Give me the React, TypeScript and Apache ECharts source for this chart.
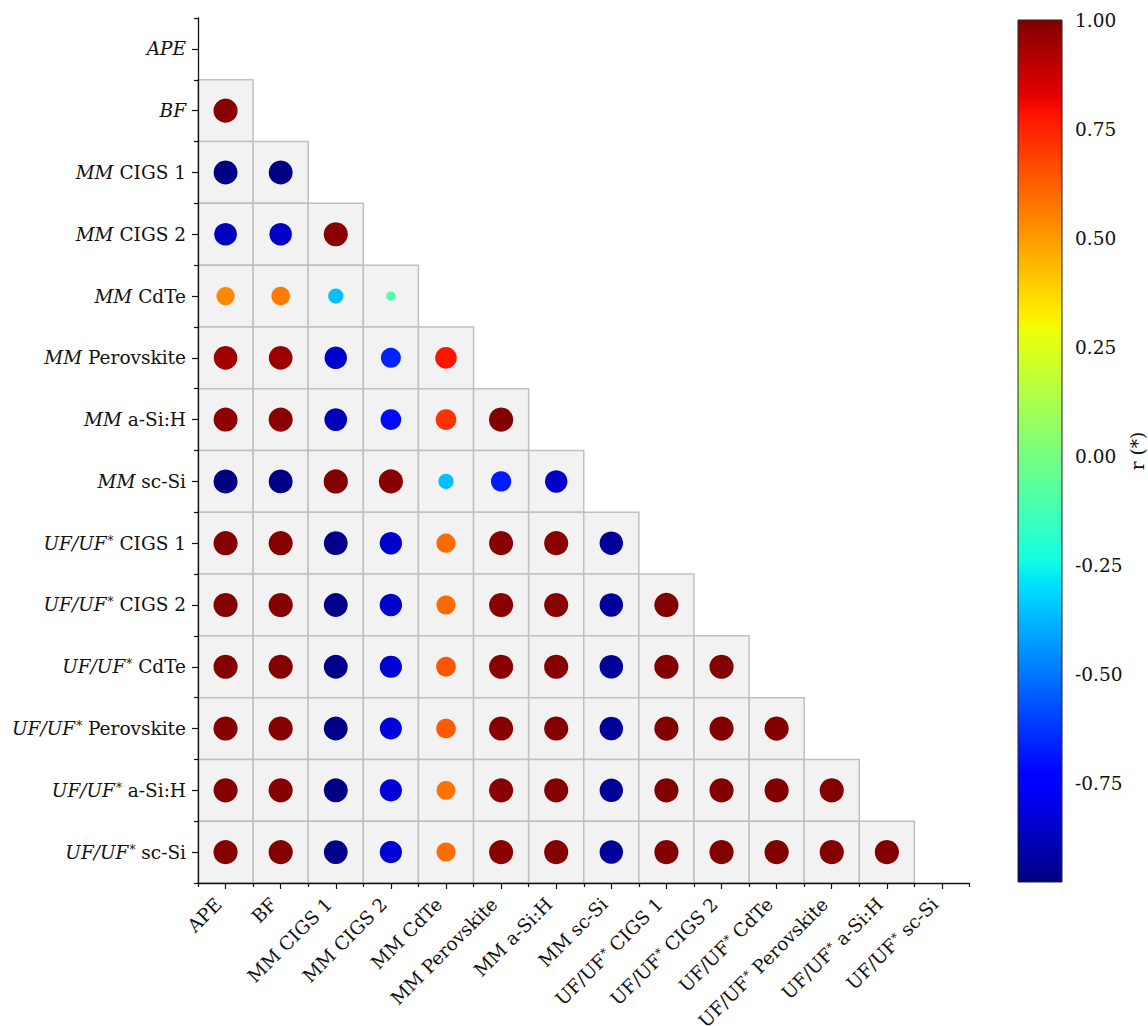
import React, { useEffect, useRef } from "react";
import * as echarts from "echarts";

// ---- data ----
const labels: string[] = [
  "APE",
  "BF",
  "MM CIGS 1",
  "MM CIGS 2",
  "MM CdTe",
  "MM Perovskite",
  "MM a-Si:H",
  "MM sc-Si",
  "UF/UF* CIGS 1",
  "UF/UF* CIGS 2",
  "UF/UF* CdTe",
  "UF/UF* Perovskite",
  "UF/UF* a-Si:H",
  "UF/UF* sc-Si",
];

// lower-triangle correlation values, row i holds columns 0..i-1
const rowAPE: number[] = [];
const rowBF: number[] = [0.985];
const rowMMCIGS1: number[] = [-0.97, -0.97];
const rowMMCIGS2: number[] = [-0.867, -0.853, 0.985];
const rowMMCdTe: number[] = [0.537, 0.567, -0.359, -0.1];
const rowMMPerov: number[] = [0.945, 0.955, -0.846, -0.664, 0.781];
const rowMMaSi: number[] = [0.975, 0.98, -0.876, -0.715, 0.715, 0.995];
const rowMMscSi: number[] = [-0.977, -0.97, 0.995, 0.985, -0.36, -0.68, -0.85];
const rowUFCIGS1: number[] = [0.99, 0.99, -0.963, -0.846, 0.601, 0.985, 0.985, -0.933];
const rowUFCIGS2: number[] = [0.99, 0.99, -0.963, -0.846, 0.6, 0.985, 0.985, -0.933, 0.995];
const rowUFCdTe: number[] = [0.99, 0.99, -0.963, -0.83, 0.644, 0.985, 0.99, -0.933, 0.995, 0.995];
const rowUFPerov: number[] = [0.99, 0.99, -0.963, -0.817, 0.634, 0.985, 0.99, -0.933, 0.995, 0.995, 0.995];
const rowUFaSi: number[] = [0.99, 0.99, -0.966, -0.83, 0.58, 0.985, 0.99, -0.933, 0.995, 0.995, 0.995, 0.995];
const rowUFscSi: number[] = [0.99, 0.99, -0.963, -0.83, 0.593, 0.985, 0.99, -0.933, 0.995, 0.995, 0.995, 0.995, 0.995];

const matrixRows: number[][] = [
  rowAPE, rowBF, rowMMCIGS1, rowMMCIGS2, rowMMCdTe, rowMMPerov, rowMMaSi,
  rowMMscSi, rowUFCIGS1, rowUFCIGS2, rowUFCdTe, rowUFPerov, rowUFaSi, rowUFscSi,
];

const COLOR_MIN = -0.977;
const COLOR_MAX = 1;
const colorbarTicks: number[] = [-0.75, -0.5, -0.25, 0, 0.25, 0.5, 0.75, 1];

// ---- jet colormap (matplotlib segment data) ----
const JR: number[][] = [[0, 0], [0.35, 0], [0.66, 1], [0.89, 1], [1, 0.5]];
const JG: number[][] = [[0, 0], [0.125, 0], [0.375, 1], [0.64, 1], [0.91, 0], [1, 0]];
const JB: number[][] = [[0, 0.5], [0.11, 1], [0.34, 1], [0.65, 0], [1, 0]];

function seg(pts: number[][], t: number): number {
  if (t <= pts[0][0]) return pts[0][1];
  for (let k = 1; k < pts.length; k++) {
    if (t <= pts[k][0]) {
      const [x0, y0] = pts[k - 1];
      const [x1, y1] = pts[k];
      return y0 + ((t - x0) / (x1 - x0)) * (y1 - y0);
    }
  }
  return pts[pts.length - 1][1];
}
function jet(t: number): string {
  const c = Math.max(0, Math.min(1, t));
  const r = Math.round(seg(JR, c) * 255);
  const g = Math.round(seg(JG, c) * 255);
  const b = Math.round(seg(JB, c) * 255);
  return `rgb(${r},${g},${b})`;
}
const norm = (v: number) => (v - COLOR_MIN) / (COLOR_MAX - COLOR_MIN);

const FONT = "DejaVu Serif";
const FS = 18.5;
const TXT = "#111";

function labelRich(name: string, italic: boolean): string {
  const ital = italic ? "i" : "n";
  if (name.startsWith("UF/UF* ")) {
    return `{${ital}|UF/UF}{sup|*}{n| ${name.slice(7)}}`;
  }
  if (name.startsWith("MM ")) {
    return `{${ital}|MM}{n| ${name.slice(3)}}`;
  }
  return `{${ital}|${name}}`;
}

const rich = {
  n: { fontFamily: FONT, fontSize: FS, color: TXT, lineHeight: 23 },
  i: { fontFamily: FONT, fontSize: FS, fontStyle: "italic", color: TXT, lineHeight: 23 },
  sup: { fontFamily: FONT, fontSize: 12, color: TXT, lineHeight: 12, verticalAlign: "top", padding: [3, 0, 0, 1] },
};

export default function App() {
  const ref = useRef<HTMLDivElement>(null);
  useEffect(() => {
    if (!ref.current) return;
    const chart = echarts.init(ref.current, undefined, { renderer: "svg" });

    const cells: number[][] = [];
    const points: number[][] = [];
    matrixRows.forEach((row, i) => {
      row.forEach((v, j) => {
        cells.push([j, i]);
        points.push([j, i, v]);
      });
    });

    const stopsT = [0, 0.11, 0.125, 0.34, 0.35, 0.375, 0.64, 0.65, 0.66, 0.89, 0.91, 1];
    const gradStops = stopsT
      .map((t) => ({ offset: 1 - t, color: jet(t) }))
      .sort((a, b) => a.offset - b.offset);

    const axisLineStyle = { color: TXT, width: 1.3 };

    const option: any = {
      animation: false,
      backgroundColor: "#fff",
      grid: [
        { left: 198, top: 18, width: 771.5, height: 865, containLabel: false, outerBoundsMode: "none" },
        { left: 1018, top: 20, width: 44, height: 862, containLabel: false, outerBoundsMode: "none" },
      ],
      xAxis: [
        {
          type: "category",
          gridIndex: 0,
          data: labels,
          position: "bottom",
          z: 5,
          axisLine: { show: true, lineStyle: axisLineStyle },
          axisTick: { show: true, alignWithLabel: true, length: 6, lineStyle: { color: TXT, width: 1.2 } },
          axisLabel: {
            rotate: 45,
            margin: 11,
            padding: [0, 10, 0, 0],
            interval: 0,
            formatter: (v: string) => labelRich(v, false),
            rich,
          },
          splitLine: { show: false },
        },
        {
          type: "category",
          gridIndex: 0,
          data: labels,
          position: "bottom",
          offset: 0,
          z: 5,
          axisLine: { show: false },
          axisTick: { show: true, alignWithLabel: false, length: 4, interval: 0, lineStyle: { color: TXT, width: 1.2 } },
          axisLabel: { show: false },
          splitLine: { show: false },
        },
        { type: "value", gridIndex: 1, min: 0, max: 1, show: false },
      ],
      yAxis: [
        {
          type: "category",
          gridIndex: 0,
          data: labels,
          inverse: true,
          position: "left",
          z: 5,
          axisLine: { show: true, lineStyle: axisLineStyle },
          axisTick: { show: true, alignWithLabel: true, length: 6, lineStyle: { color: TXT, width: 1.2 } },
          axisLabel: {
            margin: 12,
            interval: 0,
            formatter: (v: string) => labelRich(v, true),
            rich,
          },
          splitLine: { show: false },
        },
        {
          type: "category",
          gridIndex: 0,
          data: labels,
          inverse: true,
          position: "left",
          offset: 0,
          z: 5,
          axisLine: { show: false },
          axisTick: { show: true, alignWithLabel: false, length: 4, interval: 0, lineStyle: { color: TXT, width: 1.2 } },
          axisLabel: { show: false },
          splitLine: { show: false },
        },
        {
          type: "value",
          gridIndex: 1,
          min: COLOR_MIN,
          max: COLOR_MAX,
          position: "right",
          axisLine: { show: false },
          axisTick: { show: true, length: 5, customValues: colorbarTicks, lineStyle: { color: TXT, width: 1 } },
          axisLabel: {
            customValues: colorbarTicks,
            margin: 13,
            fontFamily: FONT,
            fontSize: FS,
            color: TXT,
            formatter: (v: number) => v.toFixed(2),
          },
          splitLine: { show: false },
          name: "r (*)",
          nameLocation: "middle",
          nameRotate: 90,
          nameGap: 66,
          nameTextStyle: { fontFamily: FONT, fontSize: FS, color: TXT },
        },
      ],
      series: [
        {
          type: "custom",
          xAxisIndex: 0,
          yAxisIndex: 0,
          z: 1,
          silent: true,
          data: cells,
          renderItem: (params: any, api: any) => {
            const c = api.coord([api.value(0), api.value(1)]);
            const s = api.size([1, 1]);
            return {
              type: "rect",
              shape: { x: c[0] - s[0] / 2, y: c[1] - s[1] / 2, width: s[0], height: s[1] },
              style: { fill: "#f2f2f2", stroke: "#c0c0c0", lineWidth: 1.5 },
            };
          },
        },
        {
          type: "scatter",
          xAxisIndex: 0,
          yAxisIndex: 0,
          z: 3,
          data: points,
          symbol: "circle",
          symbolSize: (val: number[]) => Math.sqrt(30 + 560 * Math.abs(val[2])),
          itemStyle: {
            color: (p: any) => jet(norm(p.value[2])),
            opacity: 1,
          },
        },
        {
          type: "custom",
          xAxisIndex: 2,
          yAxisIndex: 2,
          silent: true,
          data: [[0, COLOR_MAX]],
          renderItem: (params: any, api: any) => {
            const p0 = api.coord([0, COLOR_MAX]);
            const p1 = api.coord([1, COLOR_MIN]);
            return {
              type: "rect",
              shape: { x: p0[0], y: p0[1], width: p1[0] - p0[0], height: p1[1] - p0[1] },
              style: {
                fill: new echarts.graphic.LinearGradient(0, 0, 0, 1, gradStops),
                stroke: "#222",
                lineWidth: 1,
              },
            };
          },
        },
      ],
    };

    chart.setOption(option);
    return () => chart.dispose();
  }, []);

  return (
    <div
      ref={ref}
      style={{ position: "absolute", left: 0, top: 0, width: 1148, height: 1026, background: "#fff" }}
    />
  );
}
